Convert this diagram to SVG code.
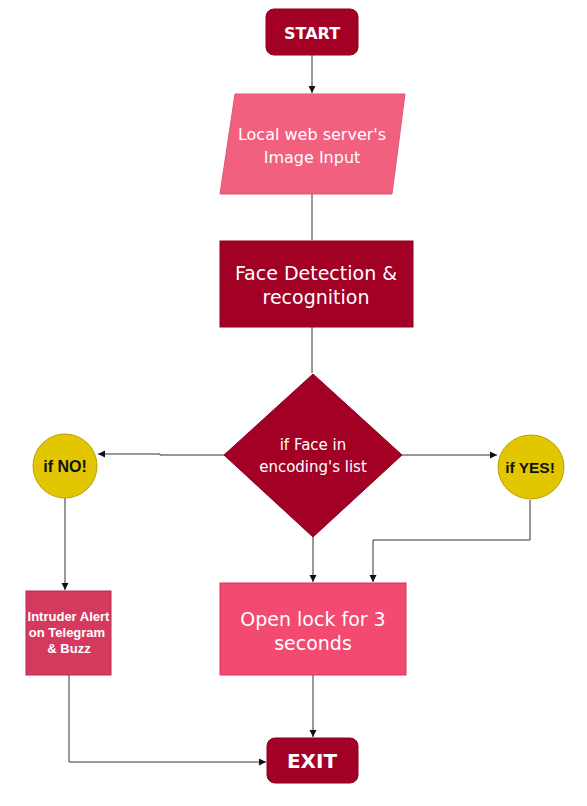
<svg xmlns="http://www.w3.org/2000/svg" width="587" height="806" viewBox="0 0 587 806">
<defs>
<marker id="ah" markerWidth="8" markerHeight="8" refX="7" refY="4" orient="auto" markerUnits="userSpaceOnUse">
<path d="M0,0.5 L7,4 L0,7.5 z" fill="#111"/>
</marker>
<style>
.c{fill:none;stroke:#333;stroke-width:1;marker-end:url(#ah)}
.l{fill:none;stroke:#333;stroke-width:1}
.t{font-family:"Comic Sans MS","DejaVu Sans",sans-serif;fill:#fff;text-anchor:middle}
.a{font-family:"Liberation Sans",Arial,sans-serif;font-weight:bold;text-anchor:middle}
.dk{fill:#A30026;stroke:#8a0020;stroke-width:1}
.y{fill:#E2C700;stroke:#b89f00}
</style>
</defs>
<rect width="587" height="806" fill="#fff"/>
<g id="connectors">
<line class="c" x1="312" y1="55" x2="312" y2="93"/>
<line class="l" x1="312" y1="194" x2="312" y2="240"/>
<line class="l" x1="312" y1="327" x2="312" y2="373"/>
<polyline class="c" points="224,455 160,455 160,454 98,454"/>
<line class="c" x1="402" y1="455" x2="497" y2="455"/>
<line class="c" x1="65" y1="498" x2="65" y2="590"/>
<polyline class="c" points="530,500 530,540 373,540 373,582"/>
<line class="c" x1="313" y1="537" x2="313" y2="582"/>
<line class="c" x1="313" y1="675" x2="313" y2="737"/>
<polyline class="c" points="69,675 69,762 266,762"/>
</g>
<g id="start">
<rect class="dk" x="266" y="9" width="92" height="46" rx="8"/>
<text class="t" x="312" y="39" font-size="16" font-weight="bold">START</text>
</g>
<g id="input">
<polygon points="235,94 405,94 392,194 220,194" fill="#F2607F" stroke="#e05575"/>
<text class="t" x="312" y="140" font-size="16">Local web server's</text>
<text class="t" x="312" y="163" font-size="16">Image Input</text>
</g>
<g id="detect">
<rect class="dk" x="220" y="241" width="193" height="86"/>
<text class="t" x="316" y="280" font-size="19">Face Detection &amp;</text>
<text class="t" x="316" y="304" font-size="19">recognition</text>
</g>
<g id="decision">
<polygon class="dk" points="313,374 402,455 313,537 224,455"/>
<text class="t" x="313" y="450" font-size="15">if Face in</text>
<text class="t" x="313" y="472" font-size="15">encoding's list</text>
</g>
<g id="no">
<circle class="y" cx="65" cy="466" r="32"/>
<text class="a" x="65" y="472" font-size="16" fill="#111">if NO!</text>
</g>
<g id="yes">
<ellipse class="y" cx="531" cy="467" rx="33" ry="32"/>
<text class="a" x="530" y="473" font-size="15.5" fill="#111">if YES!</text>
</g>
<g id="alert">
<rect x="26" y="591" width="85" height="84" fill="#D53A5E" stroke="#b82a4d"/>
<text class="a" x="68.5" y="621" font-size="13" fill="#fff">Intruder Alert</text>
<text class="a" x="67" y="637" font-size="13" fill="#fff">on Telegram</text>
<text class="a" x="69" y="653" font-size="13" fill="#fff">&amp; Buzz</text>
</g>
<g id="open">
<rect x="220" y="583" width="186" height="92" fill="#F24A70" stroke="#c83a5a"/>
<text class="t" x="313" y="626" font-size="19">Open lock for 3</text>
<text class="t" x="313" y="650" font-size="19">seconds</text>
</g>
<g id="exit">
<rect class="dk" x="267" y="738" width="91" height="45" rx="8"/>
<text class="t" x="312" y="768" font-size="20" font-weight="bold">EXIT</text>
</g>
</svg>
